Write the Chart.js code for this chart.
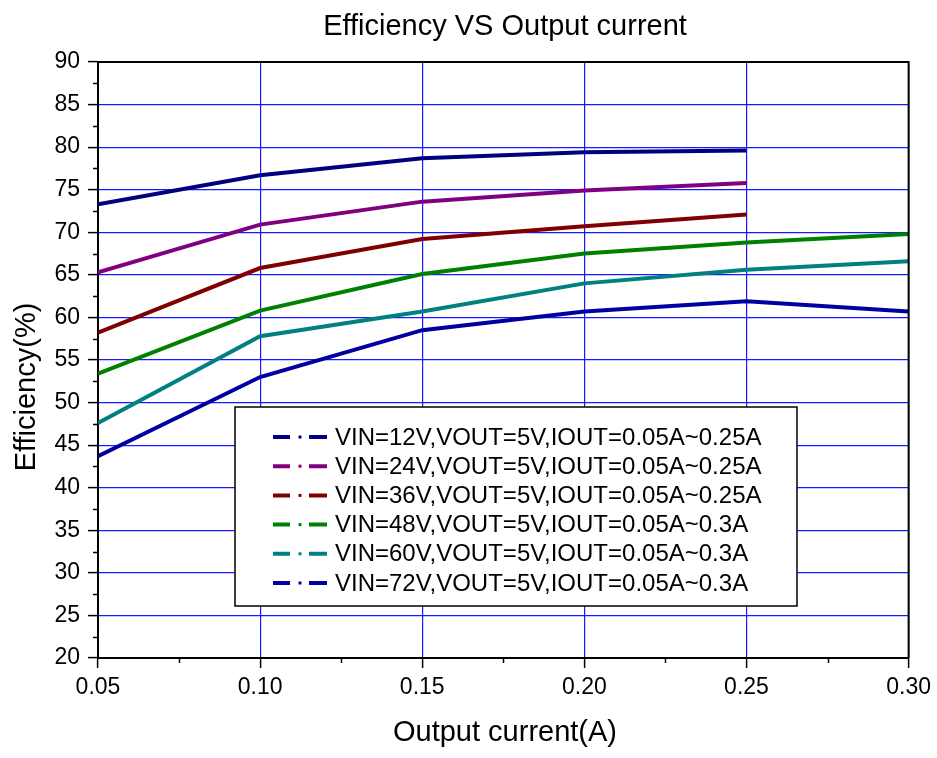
<!DOCTYPE html>
<html>
<head>
<meta charset="utf-8">
<script src="https://cdn.jsdelivr.net/npm/chart.js@4.4.1/dist/chart.umd.min.js"></script>
<style>
  html, body { margin: 0; padding: 0; background: #fff; }
  #wrap { width: 937px; height: 758px; }
</style>
</head>
<body>
<div id="wrap"><canvas id="eff"></canvas></div>
<script>
// Output current (A)
const currents = [0.05, 0.10, 0.15, 0.20, 0.25, 0.30];

// Efficiency (%)
const eff12 = [73.3, 76.7, 78.7, 79.4, 79.6];
const eff24 = [65.3, 70.9, 73.6, 74.9, 75.8];
const eff36 = [58.2, 65.8, 69.2, 70.7, 72.1];
const eff48 = [53.4, 60.8, 65.1, 67.5, 68.8, 69.8];
const eff60 = [47.6, 57.8, 60.7, 64.0, 65.6, 66.6];
const eff72 = [43.7, 53.0, 58.5, 60.7, 61.9, 60.7];

const labels = [
  'VIN=12V,VOUT=5V,IOUT=0.05A~0.25A',
  'VIN=24V,VOUT=5V,IOUT=0.05A~0.25A',
  'VIN=36V,VOUT=5V,IOUT=0.05A~0.25A',
  'VIN=48V,VOUT=5V,IOUT=0.05A~0.3A',
  'VIN=60V,VOUT=5V,IOUT=0.05A~0.3A',
  'VIN=72V,VOUT=5V,IOUT=0.05A~0.3A'
];
const colors = ['#000080', '#800080', '#800000', '#008000', '#008080', '#0000A0'];

const FONT = '"Liberation Sans", Arial, sans-serif';

function toPoints(vals) {
  return vals.map((v, i) => ({ x: currents[i], y: v }));
}

const series = [eff12, eff24, eff36, eff48, eff60, eff72];

// frame, minor ticks, titles and the boxed legend
const decor = {
  id: 'decor',
  afterDraw(chart) {
    const ctx = chart.ctx;
    const a = chart.chartArea;
    const xs = chart.scales.x, ys = chart.scales.y;
    ctx.save();

    // top + right frame
    ctx.strokeStyle = '#000';
    ctx.lineWidth = 2;
    ctx.beginPath();
    ctx.moveTo(a.left, a.top);
    ctx.lineTo(a.right, a.top);
    ctx.lineTo(a.right, a.bottom);
    ctx.stroke();

    // minor ticks
    ctx.lineWidth = 1.5;
    ctx.beginPath();
    for (let v = 22.5; v < 90; v += 5) {
      const py = Math.round(ys.getPixelForValue(v)) + 0.5;
      ctx.moveTo(a.left - 5, py);
      ctx.lineTo(a.left, py);
    }
    for (let v = 0.075; v < 0.3; v += 0.05) {
      const px = Math.round(xs.getPixelForValue(v)) + 0.5;
      ctx.moveTo(px, a.bottom);
      ctx.lineTo(px, a.bottom + 5);
    }
    ctx.stroke();

    // titles
    ctx.fillStyle = '#000';
    ctx.textAlign = 'center';
    ctx.textBaseline = 'middle';
    ctx.font = '29px ' + FONT;
    ctx.fillText('Efficiency VS Output current', 505, 27);
    ctx.fillText('Output current(A)', 505, 733);
    ctx.save();
    ctx.translate(27, 387);
    ctx.rotate(-Math.PI / 2);
    ctx.fillText('Efficiency(%)', 0, 0);
    ctx.restore();

    // legend box
    const bx = 235, by = 407, bw = 562, bh = 199;
    ctx.fillStyle = '#fff';
    ctx.fillRect(bx, by, bw, bh);
    ctx.strokeStyle = '#000';
    ctx.lineWidth = 1.5;
    ctx.strokeRect(bx, by, bw, bh);

    ctx.font = '24px ' + FONT;
    ctx.textAlign = 'left';
    chart.data.datasets.forEach((ds, i) => {
      const y = 437 + i * 29.2;
      ctx.strokeStyle = ds.borderColor;
      ctx.fillStyle = ds.borderColor;
      ctx.lineWidth = 4;
      ctx.beginPath();
      ctx.moveTo(273, y); ctx.lineTo(290, y);
      ctx.moveTo(309, y); ctx.lineTo(327, y);
      ctx.stroke();
      ctx.fillRect(298.5, y - 1.5, 3, 3);
      ctx.fillStyle = '#000';
      ctx.fillText(ds.label, 335, y + 1);
    });

    ctx.restore();
  }
};

new Chart(document.getElementById('eff'), {
  type: 'line',
  data: {
    datasets: series.map((s, i) => ({
      label: labels[i],
      data: toPoints(s),
      borderColor: colors[i],
      backgroundColor: colors[i],
      borderWidth: 4,
      pointRadius: 0,
      tension: 0,
      fill: false
    }))
  },
  options: {
    responsive: true,
    maintainAspectRatio: false,
    animation: false,
    layout: { padding: { top: 62, right: 28, left: 0, bottom: 0 } },
    plugins: {
      legend: { display: false },
      title: { display: false },
      tooltip: { enabled: false }
    },
    scales: {
      x: {
        type: 'linear',
        min: 0.05,
        max: 0.30,
        afterFit: s => { s.height = 100; },
        ticks: {
          stepSize: 0.05,
          color: '#000',
          padding: 6,
          font: { family: FONT, size: 23 },
          maxRotation: 0,
          callback: v => Number(v).toFixed(2)
        },
        grid: { color: 'rgba(0,0,255,0.9)', lineWidth: 1.2, tickColor: '#000', tickLength: 10, tickWidth: 1.5 },
        border: { color: '#000', width: 2 }
      },
      y: {
        min: 20,
        max: 90,
        afterFit: s => { s.width = 98; },
        ticks: {
          stepSize: 5,
          color: '#000',
          padding: 8,
          font: { family: FONT, size: 23 }
        },
        grid: { color: 'rgba(0,0,255,0.9)', lineWidth: 1.2, tickColor: '#000', tickLength: 10, tickWidth: 1.5 },
        border: { color: '#000', width: 2 }
      }
    }
  },
  plugins: [decor]
});
</script>
</body>
</html>
